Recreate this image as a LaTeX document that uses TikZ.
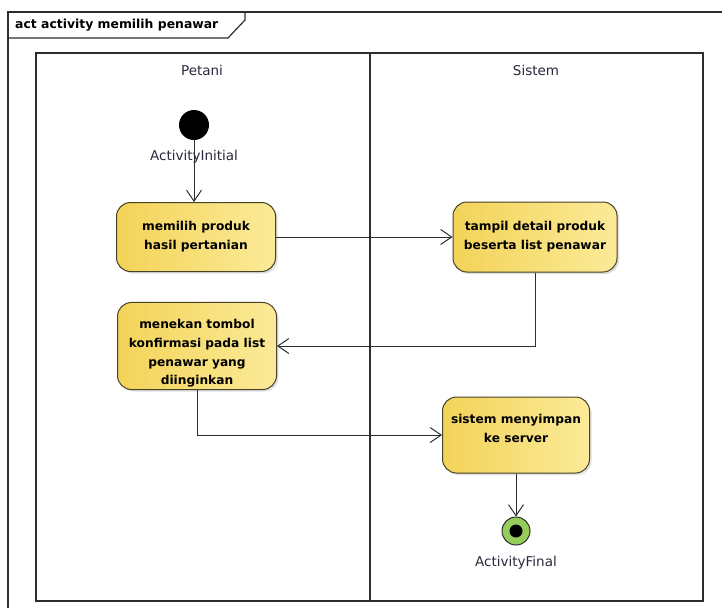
\documentclass[tikz,border=0pt]{standalone}
\usepackage{fontspec}
\setmainfont{DejaVu Sans}
\usetikzlibrary{arrows.meta,shadows,calc}
\definecolor{lineclr}{RGB}{45,45,45}
\definecolor{actleft}{RGB}{243,211,88}
\definecolor{actright}{RGB}{251,234,152}
\definecolor{actborder}{RGB}{70,66,40}
\definecolor{finalgreen}{RGB}{150,205,90}
\definecolor{labelclr}{RGB}{40,40,60}
\begin{document}
\begin{tikzpicture}[x=1pt,y=-1pt,
  action/.style={draw=actborder,line width=1pt,rounded corners=14pt,
    left color=actleft,right color=actright,
    drop shadow={shadow xshift=2pt,shadow yshift=-2pt,opacity=0.25},
    align=center,font=\fontsize{12.2}{18.8}\selectfont\bfseries,inner sep=2pt},
  flow/.style={draw=lineclr,line width=1pt,
    -{Straight Barb[length=11pt,width=15pt,line width=1pt]}},
  lanetitle/.style={font=\fontsize{13.5}{15}\selectfont,text=labelclr},
  nodelabel/.style={font=\fontsize{13.5}{15}\selectfont,text=labelclr}]
  \useasboundingbox (0,0) rectangle (722,608);
  % diagram frame with its name tab
  \draw[lineclr,line width=1.2pt] (8,608) -- (8,12) -- (722,12);
  \draw[lineclr,line width=1.2pt] (8,38) -- (228,38) -- (245,20) -- (245,12);
  \node[anchor=west,font=\fontsize{12.4}{14}\selectfont\bfseries,inner sep=0pt] (title) at (15,25) {act activity memilih penawar};
  % swimlanes
  \draw[lineclr,line width=1.2pt] (36,53) rectangle (703,601);
  \draw[lineclr,line width=1.2pt] (370,53) -- (370,601);
  \node[lanetitle] (petani) at (202,70) {Petani};
  \node[lanetitle] (sistem) at (536,70) {Sistem};
  % initial node
  \node[circle,fill=black,minimum size=30pt,inner sep=0pt] (init) at (194,125) {};
  \node[nodelabel] (initlabel) at (194,157) {ActivityInitial};
  % actions
  \node[action,minimum width=159pt,minimum height=69pt] (a1) at (196,237) {memilih produk\\hasil pertanian};
  \node[action,minimum width=164pt,minimum height=70pt] (a2) at (535,237) {tampil detail produk\\beserta list penawar};
  \node[action,minimum width=159pt,minimum height=87pt] (a3) at (197,346) {\rule{0pt}{24pt}menekan tombol\\konfirmasi pada list\\penawar yang\\diinginkan};
  \node[action,minimum width=147pt,minimum height=76pt] (a4) at (516,435) {sistem menyimpan\\ke server\rule[-13pt]{0pt}{13pt}};
  % final node
  \node[circle,draw=lineclr,line width=1pt,fill=finalgreen,minimum size=28pt,inner sep=0pt] (final) at (516,531) {};
  \node[circle,fill=black,minimum size=13pt,inner sep=0pt] (finaldot) at (final) {};
  \node[nodelabel] (finallabel) at (516,563) {ActivityFinal};
  % control flows
  \draw[flow] (init) -- (init |- a1.north);
  \draw[flow] (a1.east) -- (a1.east -| a2.west);
  \draw[flow] (a2.south) |- (a3.east);
  \draw[flow] (a3.south) |- (a4.west);
  \draw[flow] (a4.south) -- (final.north);
\end{tikzpicture}
\end{document}
